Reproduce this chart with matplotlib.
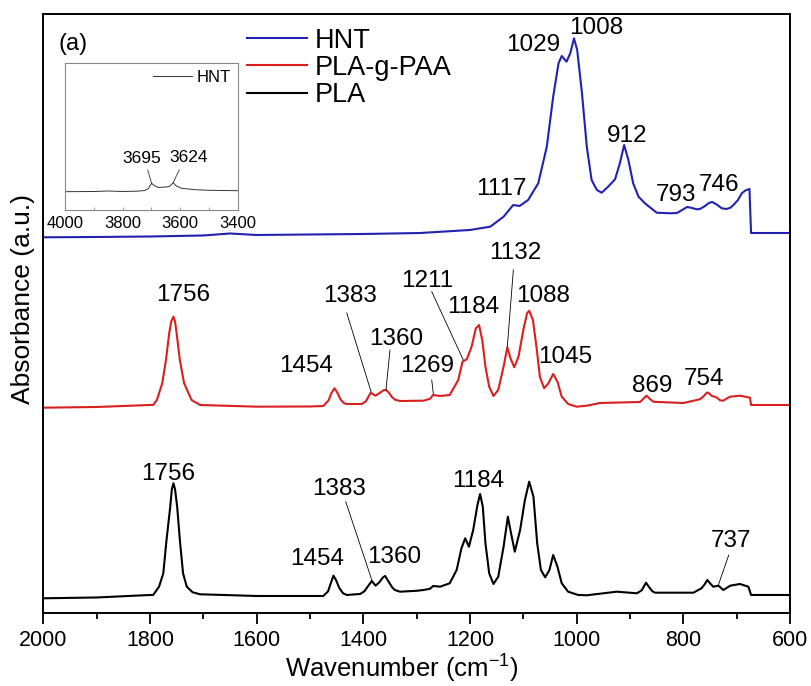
import matplotlib
matplotlib.use("Agg")
import matplotlib.pyplot as plt

plt.rcParams['font.family'] = ['Liberation Sans', 'DejaVu Sans']
plt.rcParams['mathtext.default'] = 'regular'

# HNT (azul) - numero de onda / absorbancia (u.a.)
hnt_wn = [2000, 1900, 1800, 1700, 1650, 1600, 1500, 1400, 1293, 1200, 1162, 1137,
          1119, 1107, 1091, 1072, 1056, 1044, 1034, 1028, 1019, 1012, 1005, 999,
          990, 981, 972, 962, 953, 941, 928, 919, 911, 903, 894, 884, 872, 850,
          825, 812, 800, 793, 785, 775, 769, 760, 752, 746, 738, 728, 719, 712,
          706, 698, 690, 683, 676, 673, 600]
hnt_abs = [376.0, 376.3, 376.8, 377.8, 379.8, 378.3, 378.8, 379.3, 380.3, 383.3, 386.6, 396.6,
           408.3, 407.3, 413.3, 430.0, 466.6, 516.6, 550.0, 557.3, 551.6, 560.0, 575.0, 563.3,
           520.0, 466.6, 433.3, 423.3, 420.6, 426.6, 434.0, 450.0, 468.3, 453.3, 430.0, 416.6, 410.0, 400.6,
           400.0, 400.3, 404.0, 406.3, 405.5, 404.0, 404.3, 407.0, 410.3, 411.3, 409.0, 405.0, 404.3, 405.5,
           408.3, 413.0, 420.3, 423.0, 424.3, 380.3, 380.3]

# PLA-g-PAA (vermelho)
pgp_wn = [2000, 1900, 1800, 1794, 1787, 1777, 1770, 1764, 1760, 1756, 1753, 1750,
          1744, 1736, 1722, 1706, 1600, 1500, 1475, 1465, 1460, 1454, 1448, 1443,
          1436, 1431, 1403, 1395, 1390, 1386, 1380, 1377, 1370, 1362, 1357, 1352,
          1346, 1340, 1331, 1287, 1275, 1269, 1256, 1238, 1222, 1214, 1206, 1197,
          1189, 1183, 1177, 1171, 1164, 1156, 1147, 1137, 1130, 1124, 1117, 1109,
          1100, 1093, 1089, 1082, 1075, 1069, 1061, 1053, 1044, 1036, 1028, 1016,
          1000, 981, 956, 881, 875, 869, 863, 856, 800, 769, 762, 756, 753, 747,
          741, 737, 731, 725, 718, 712, 694, 675, 673, 600]
pgp_abs = [205.6, 206.3, 208.3, 208.3, 213.3, 230.0, 253.3, 280.0, 292.0, 296.6, 292.0, 280.0,
           253.3, 230.0, 213.3, 208.3, 206.6, 206.8, 207.3, 213.0, 220.0, 225.0, 220.0, 214.0,
           210.0, 209.3, 209.3, 212.0, 217.0, 220.6, 218.5, 217.6, 220.0, 223.0, 223.3, 220.5,
           216.0, 213.5, 212.3, 212.6, 214.5, 218.3, 217.3, 218.3, 233.3, 251.6, 254.0, 266.6,
           285.0, 288.3, 273.3, 246.6, 226.6, 217.3, 223.3, 246.6, 266.0, 255.0, 246.0, 256.6,
           283.3, 300.0, 302.6, 293.3, 265.0, 236.6, 225.0, 230.0, 239.3, 231.6, 216.6, 209.3,
           206.6, 207.6, 210.3, 211.3, 214.5, 217.6, 214.5, 211.5, 210.3, 214.0, 217.0, 220.6, 220.6, 217.5,
           216.5, 215.6, 213.0, 212.6, 215.0, 216.6, 217.6, 215.6, 208.3, 208.3]

# PLA (preto)
pla_wn = [2000, 1900, 1800, 1794, 1783, 1775, 1769, 1762, 1759, 1756, 1753, 1749,
          1744, 1738, 1731, 1720, 1706, 1600, 1475, 1466, 1461, 1456, 1451, 1445,
          1438, 1431, 1406, 1398, 1390, 1384, 1377, 1370, 1363, 1359, 1353, 1346,
          1341, 1331, 1300, 1287, 1275, 1269, 1256, 1238, 1225, 1216, 1209, 1202,
          1194, 1186, 1181, 1176, 1171, 1164, 1156, 1147, 1137, 1129, 1123, 1116,
          1106, 1097, 1089, 1081, 1074, 1067, 1059, 1051, 1044, 1036, 1028, 1016,
          997, 981, 925, 887, 878, 870, 864, 858, 853, 781, 766, 760, 755, 750,
          744, 734, 725, 712, 694, 678, 673, 600]
pla_abs = [15.0, 15.8, 18.3, 18.3, 26.6, 40.0, 73.3, 106.6, 124.0, 130.0, 124.0, 106.6,
           73.3, 40.0, 26.6, 21.0, 19.0, 17.3, 17.3, 22.0, 30.0, 37.6, 33.0, 25.3,
           20.0, 18.3, 19.3, 22.0, 28.0, 32.3, 27.6, 31.0, 36.0, 37.3, 32.0, 26.0,
           23.3, 21.6, 22.5, 23.3, 24.5, 27.3, 26.6, 30.0, 43.3, 65.0, 75.0, 66.6,
           83.3, 108.3, 119.3, 106.6, 70.0, 40.0, 29.3, 36.6, 66.6, 96.6, 80.0, 61.6,
           83.3, 113.3, 131.6, 116.6, 70.0, 43.3, 36.0, 43.3, 58.3, 46.6, 30.0, 21.6,
           18.3, 18.0, 21.6, 20.0, 23.0, 30.6, 26.0, 22.0, 20.6, 20.6, 25.0, 29.0, 33.3, 30.0,
           26.6, 27.6, 23.3, 27.6, 29.3, 26.6, 18.3, 18.3]

# inset HNT 4000-3400
ins_wn = [4000, 3900, 3850, 3800, 3750, 3722, 3710, 3699, 3690, 3675, 3660, 3647,
          3635, 3624, 3615, 3595, 3548, 3500, 3400]
ins_abs = [18.3, 18.5, 19.0, 18.5, 18.8, 19.5, 21.5, 26.7, 24.5, 22.5, 22.8, 23.0,
           24.0, 27.3, 24.5, 21.7, 20.3, 19.7, 19.3]

cor_hnt = '#2222b0'
cor_pgp = '#d82020'
cor_pla = 'black'

fig = plt.figure(figsize=(8.11, 6.86), dpi=100)
ax = fig.add_axes([0.0534, 0.106, 0.9207, 0.8736])

ax.plot(hnt_wn, hnt_abs, color=cor_hnt, lw=1.5, label='HNT')
ax.plot(pgp_wn, pgp_abs, color=cor_pgp, lw=1.5, label='PLA-g-PAA')
ax.plot(pla_wn, pla_abs, color=cor_pla, lw=1.5, label='PLA')

ax.set_xlim(2000, 600)
ax.set_ylim(0, 599.3)
ax.set_xticks(range(2000, 599, -200))
ax.set_xticks(range(1900, 600, -200), minor=True)
ax.set_yticks([])
ax.tick_params(axis='x', which='major', direction='out', length=8, width=1.3, labelsize=15.5, pad=4)
ax.tick_params(axis='x', which='minor', direction='out', length=4.5, width=1.3)
for s in ax.spines.values():
    s.set_linewidth(1.4)

ax.set_xlabel(r'Wavenumber (cm$^{-1}$)', fontsize=18.5)
ax.xaxis.label.set_va('center')
ax.xaxis.set_label_coords(0.4804, -0.093)
ax.set_ylabel('Absorbance (a.u.)', fontsize=19)
ax.yaxis.label.set_va('center')
ax.yaxis.set_label_coords(-0.0272, 0.5244)

ax.text(0.0402, 0.9494, '(a)', transform=ax.transAxes, fontsize=17, ha='center', va='center')

leg = ax.legend(loc='upper left', bbox_to_anchor=(0.2728, 0.9773), frameon=False, fontsize=19.5,
                handlelength=2.2, handletextpad=0.3, labelspacing=0.05, borderpad=0, borderaxespad=0)
for l in leg.get_lines():
    l.set_linewidth(1.5)

# rotulos dos picos (texto, x, y)
rot_hnt = [('1029', 1081, 568.3), ('1008', 964, 585), ('912', 904.5, 477.5),
           ('1117', 1142, 424.3), ('793', 814, 418), ('746', 733, 428)]
rot_pgp = [('1756', 1737.5, 318.3), ('1454', 1508, 247.6), ('1383', 1425, 317.6),
           ('1360', 1339, 274.3), ('1269', 1279.6, 247.6), ('1211', 1280.5, 332.6),
           ('1184', 1193.7, 306), ('1132', 1115.5, 360.3), ('1088', 1062.4, 317.6),
           ('1045', 1022, 256), ('869', 859.2, 227.6), ('754', 761, 234.3)]
rot_pla = [('1756', 1765.6, 139.6), ('1383', 1445.5, 124.3), ('1454', 1486, 54.3),
           ('1360', 1342, 56.3), ('1184', 1184.3, 132.6), ('737', 711, 72.6)]
for txt, x, y in rot_hnt + rot_pgp + rot_pla:
    ax.text(x, y, txt, fontsize=17.5, ha='center', va='center')

# linhas de chamada
chamadas = [((1431, 300.3), (1385.5, 221.6)),
            ((1350, 263.3), (1357.5, 223.3)),
            ((1271.7, 233.3), (1268.7, 219.3)),
            ((1271.7, 321.6), (1212.5, 253.3)),
            ((1118.7, 343.3), (1130, 266.6)),
            ((1433, 111.6), (1383, 31.6)),
            ((714.8, 58.3), (734.3, 28.3))]
for (x0, y0), (x1, y1) in chamadas:
    ax.plot([x0, x1], [y0, y1], color='black', lw=0.6)

# INSET
axi = fig.add_axes([0.0801, 0.6939, 0.2129, 0.2138])
axi.plot(ins_wn, ins_abs, color='#333333', lw=0.7, label='HNT')
axi.set_xlim(4000, 3400)
axi.set_ylim(0, 146.7)
axi.set_xticks([4000, 3800, 3600, 3400])
axi.set_xticks([3900, 3700, 3500], minor=True)
axi.set_yticks([])
axi.tick_params(axis='x', which='both', direction='in', length=2.5, width=0.6, color='#888888',
                labelsize=12, pad=4)
for s in axi.spines.values():
    s.set_linewidth(0.8)
    s.set_color('#888888')
axi.text(3733.5, 51.7, '3695', fontsize=12.5, ha='center', va='center')
axi.text(3569, 52, '3624', fontsize=12.5, ha='center', va='center')
axi.plot([3712.6, 3699], [40, 26.7], color='#333333', lw=0.6)
axi.plot([3603, 3624], [40, 27.3], color='#333333', lw=0.6)
li = axi.legend(loc='upper right', frameon=False, fontsize=12, handlelength=2.35,
                handletextpad=0.3, borderpad=0, borderaxespad=0.4)
for l in li.get_lines():
    l.set_linewidth(0.7)

fig.savefig('out.png', dpi=100)
